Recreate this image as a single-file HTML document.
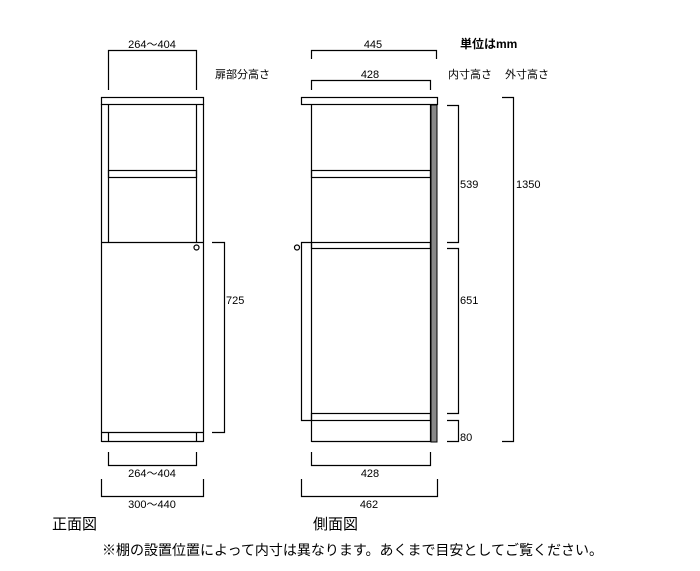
<!DOCTYPE html>
<html><head><meta charset="utf-8"><style>
html,body{margin:0;padding:0;background:#fff;width:700px;height:571px;overflow:hidden}
svg{display:block}
text{font-family:"Liberation Sans","Noto Sans CJK JP",sans-serif;fill:#000}
</style></head><body>
<svg width="700" height="571" viewBox="0 0 700 571" xmlns="http://www.w3.org/2000/svg">
<g fill="none" stroke="#000" stroke-width="1.2">
<!-- front view -->
<rect x="101.5" y="97.5" width="102" height="7"/>
<line x1="101.5" y1="104" x2="101.5" y2="442"/>
<line x1="203.5" y1="104" x2="203.5" y2="442"/>
<line x1="108.5" y1="104" x2="108.5" y2="242"/>
<line x1="196.5" y1="104" x2="196.5" y2="242"/>
<rect x="108.5" y="170.5" width="88" height="7"/>
<line x1="101.5" y1="242.5" x2="203.5" y2="242.5"/>
<line x1="101.5" y1="432.5" x2="203.5" y2="432.5"/>
<line x1="101.5" y1="441.5" x2="203.5" y2="441.5"/>
<line x1="108.5" y1="432" x2="108.5" y2="442"/>
<line x1="196.5" y1="432" x2="196.5" y2="442"/>
<circle cx="196.5" cy="247.5" r="2.5"/>
<!-- front dims -->
<polyline points="108.5,90 108.5,50.5 196.5,50.5 196.5,90"/>
<polyline points="212,242.5 224.5,242.5 224.5,432.5 212,432.5"/>
<polyline points="108.5,452 108.5,465.5 196.5,465.5 196.5,452"/>
<polyline points="101.5,479 101.5,496.5 203.5,496.5 203.5,479"/>
<!-- side view -->
<rect x="301.5" y="97.5" width="136" height="7"/>
<line x1="311.5" y1="104" x2="311.5" y2="442"/>
<line x1="430.5" y1="104" x2="430.5" y2="442"/>
<rect x="311.5" y="170.5" width="119" height="7"/>
<rect x="311.5" y="242.5" width="119" height="6"/>
<rect x="311.5" y="413.5" width="119" height="7"/>
<line x1="311.5" y1="441.5" x2="437" y2="441.5"/>
<polyline points="311.5,242.5 301.5,242.5 301.5,420.5 311.5,420.5"/>
<circle cx="297" cy="247.5" r="2.5"/>
<!-- side dims -->
<polyline points="311.5,59 311.5,50.5 436.5,50.5 436.5,59"/>
<polyline points="311.5,90 311.5,80.5 430.5,80.5 430.5,90"/>
<polyline points="447,105.5 458.5,105.5 458.5,242.5 447,242.5"/>
<polyline points="447,248.5 458.5,248.5 458.5,413.5 447,413.5"/>
<polyline points="447,420.5 458.5,420.5 458.5,441.5 447,441.5"/>
<polyline points="502,97.5 513.5,97.5 513.5,441.5 502,441.5"/>
<polyline points="311.5,452 311.5,465.5 430.5,465.5 430.5,452"/>
<polyline points="301.5,479 301.5,496.5 437.5,496.5 437.5,479"/>
</g>
<rect x="431" y="105" width="6" height="337" fill="#888" stroke="#000" stroke-width="1"/>
<g font-size="11">
<text x="152" y="48" text-anchor="middle">264～404</text>
<text x="215" y="78">扉部分高さ</text>
<text x="226" y="304">725</text>
<text x="152" y="477" text-anchor="middle">264～404</text>
<text x="152" y="508" text-anchor="middle">300～440</text>
<text x="373" y="48" text-anchor="middle">445</text>
<text x="370" y="78" text-anchor="middle">428</text>
<text x="448" y="78">内寸高さ</text>
<text x="505" y="78">外寸高さ</text>
<text x="460" y="188">539</text>
<text x="460" y="304">651</text>
<text x="460" y="441">80</text>
<text x="516" y="188">1350</text>
<text x="370" y="477" text-anchor="middle">428</text>
<text x="369" y="508" text-anchor="middle">462</text>
</g>
<text x="460" y="48" font-size="12" font-weight="bold">単位はmm</text>
<text x="52" y="529" font-size="15" textLength="45">正面図</text>
<text x="313" y="529" font-size="15" textLength="45">側面図</text>
<text x="102" y="555" font-size="14" textLength="501" lengthAdjust="spacingAndGlyphs">※棚の設置位置によって内寸は異なります。あくまで目安としてご覧ください。</text>
</svg>
</body></html>
